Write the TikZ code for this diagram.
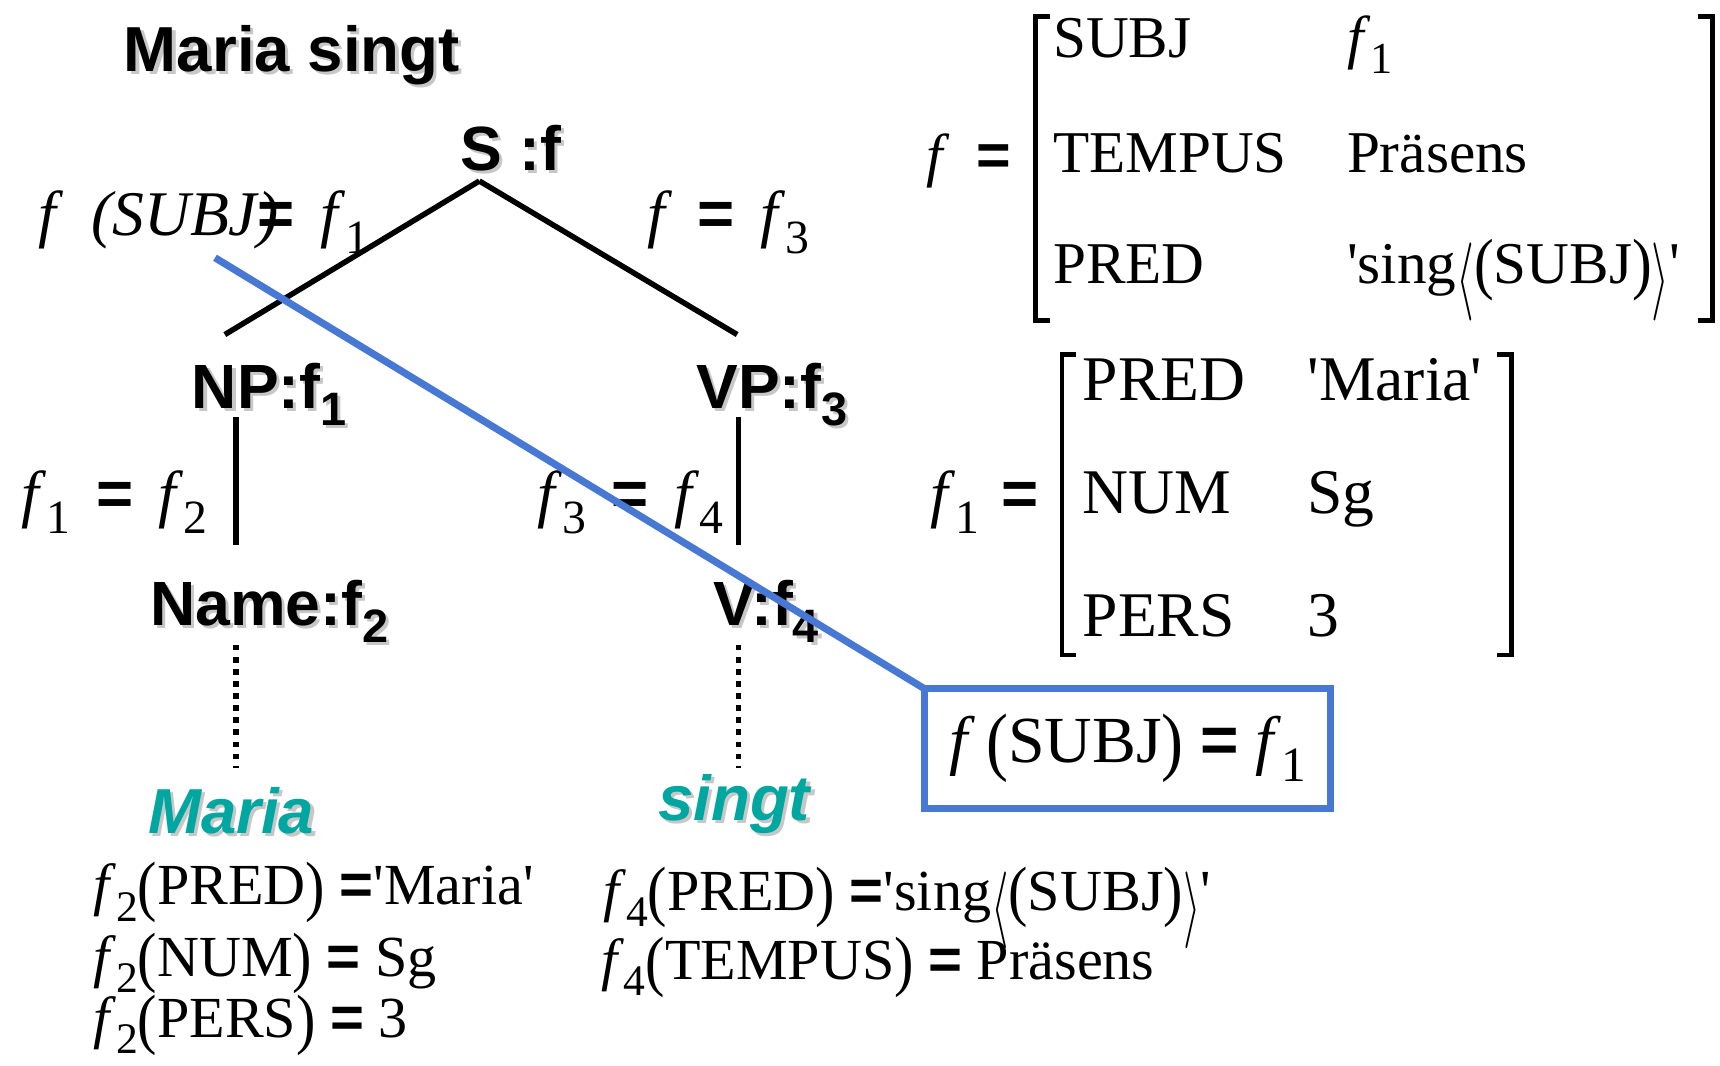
\documentclass[tikz,border=0pt]{standalone}
\usepackage{fontspec}
\setmainfont{Liberation Serif}
\setsansfont{Liberation Sans}
\usepackage{graphicx}
\usepackage{xcolor}
\definecolor{teal1}{RGB}{0,166,160}
\definecolor{blue1}{RGB}{70,120,212}
\newcommand\itf{\textit{f}}
\newcommand\sbs[1]{\raisebox{-0.28em}{\scalebox{0.75}{#1}}}
\newcommand\eqs{{\sffamily\bfseries =}}
\newcommand\shd[1]{\makebox[0pt][l]{\hspace{0.05em}\raisebox{-0.05em}{\textcolor{black!22}{#1}}}#1}
\newcommand\q{\textquotesingle}
\newcommand\lang{\raisebox{-0.32em}{\resizebox*{0.3em}{1.32em}{$\langle$}}}
\newcommand\rang{\raisebox{-0.32em}{\resizebox*{0.3em}{1.32em}{$\rangle$}}}
\newcommand\lp{\raisebox{-0.06em}{\scalebox{1}[1.15]{(}}}
\newcommand\rp{\raisebox{-0.06em}{\scalebox{1}[1.15]{)}}}
\newcommand\gap{\hspace{0.4em}}
\begin{document}
\begin{tikzpicture}[x=1pt,y=-1pt,
  every node/.style={inner sep=0pt,outer sep=0pt,anchor=base west},
  title/.style={font=\sffamily\bfseries\fontsize{58}{64}\selectfont},
  cat/.style={font=\sffamily\bfseries\fontsize{57}{62}\selectfont},
  word/.style={font=\sffamily\bfseries\itshape\fontsize{58}{63}\selectfont,text=teal1},
  eqn/.style={font=\fontsize{58}{64}\selectfont},
  fs/.style={font=\fontsize{53}{60}\selectfont},
  mat/.style={font=\fontsize{54}{60}\selectfont},
  matb/.style={font=\fontsize{58}{64}\selectfont},
  boxt/.style={font=\fontsize{60}{66}\selectfont},
  branch/.style={line width=5pt},
  dotline/.style={line width=5pt,dash pattern=on 5pt off 6pt},
  brk/.style={line width=4pt},
  blueline/.style={draw=blue1,line width=6.5pt}]
\useasboundingbox[fill=white] (0,0) rectangle (1568,971);

% title and tree labels
\node[title] (title) at (113,65) {\shd{Maria singt}};
\node[cat] (S) at (420,155) {\shd{S :f}};
\node[cat] (NP) at (175,372) {\shd{NP:f\sbs{1}}};
\node[cat] (VP) at (635,372) {\shd{VP:f\sbs{3}}};
\node[cat] (Name) at (137,570) {\shd{Name:f\sbs{2}}};
\node[cat] (V) at (650,570) {\shd{V:f\sbs{4}}};
\node[word] (maria) at (135,760) {\shd{Maria}};
\node[word] (singt) at (600,748) {\shd{singt}};

% annotations
\node[eqn] (neq) at (35,215) {\textit{f\hspace{0.55em}(SUBJ)}\kern-0.32em\eqs\gap\itf\sbs{1}};
\node[eqn] (ff3) at (590,215) {\itf\gap\eqs\gap\itf\sbs{3}};
\node[eqn] (f1f2) at (20,470) {\itf\sbs{1}\gap\eqs\gap\itf\sbs{2}};
\node[eqn] (f3f4) at (490,470) {\itf\sbs{3}\gap\eqs\gap\itf\sbs{4}};

% lexical equations
\node[fs] (m1) at (85,825) {\itf\sbs{2}\lp PRED\rp\ \eqs\q Maria\q};
\node[fs] (m2) at (85,890) {\itf\sbs{2}\lp NUM\rp\ \eqs\ Sg};
\node[fs] (m3) at (85,946) {\itf\sbs{2}\lp PERS\rp\ \eqs\ 3};
\node[fs] (s1) at (550,830) {\itf\sbs{4}\lp PRED\rp\ \eqs\q sing\lang\lp SUBJ\rp\rang\q};
\node[fs] (s2) at (548,893) {\itf\sbs{4}\lp TEMPUS\rp\ \eqs\ Präsens};

% tree connectors
\coordinate (apex) at (437,165);
\coordinate (lend) at (205,305);
\coordinate (rend) at (672,305);
\coordinate (npa) at (215,380);
\coordinate (npb) at (215,497);
\coordinate (vpa) at (673,380);
\coordinate (vpb) at (673,497);
\coordinate (na) at (215,588);
\coordinate (nb) at (215,700);
\coordinate (va) at (673,588);
\coordinate (vb) at (673,700);
\draw[branch] (apex) -- (lend);
\draw[branch] (apex) -- (rend);
\draw[branch] (npa) -- (npb);
\draw[branch] (vpa) -- (vpb);
\draw[dotline] (na) -- (nb);
\draw[dotline] (va) -- (vb);

% f-structure f
\node[mat] (feq) at (845,160) {\itf\hspace{0.45em}\eqs};
\node[mat] (r1a) at (960,52) {SUBJ};
\node[mat] (r1b) at (1228,52) {\itf\sbs{1}};
\node[mat] (r2a) at (960,157) {TEMPUS};
\node[mat] (r2b) at (1228,157) {Präsens};
\node[mat] (r3a) at (960,258) {PRED};
\node[mat] (r3b) at (1228,258) {\q sing\lang\lp SUBJ\rp\rang\q};
\draw[brk] (957,15) -- (944,15) -- (944,292) -- (957,292);
\draw[brk] (1548,15) -- (1561,15) -- (1561,292) -- (1548,292);

% f-structure f1
\node[matb] (f1eq) at (848,470) {\itf\sbs{1}\hspace{0.35em}\eqs};
\node[matb] (q1a) at (987,365) {PRED};
\node[matb] (q1b) at (1192,365) {\q Maria\q};
\node[matb] (q2a) at (987,468) {NUM};
\node[matb] (q2b) at (1192,468) {Sg};
\node[matb] (q3a) at (987,580) {PERS};
\node[matb] (q3b) at (1192,580) {3};
\draw[brk] (981,323) -- (968,323) -- (968,597) -- (981,597);
\draw[brk] (1365,323) -- (1378,323) -- (1378,597) -- (1365,597);

% highlighted equation box and blue line
\node[boxt,anchor=center,draw=blue1,line width=6.5pt,minimum width=370pt,minimum height=109pt] (box) at (1028,682.5) {\itf\,\lp SUBJ\rp\ \eqs\ \itf\sbs{1}};
\coordinate (bstart) at (196,235);
\draw[blueline] (bstart) -- (box.north west);
\end{tikzpicture}
\end{document}
